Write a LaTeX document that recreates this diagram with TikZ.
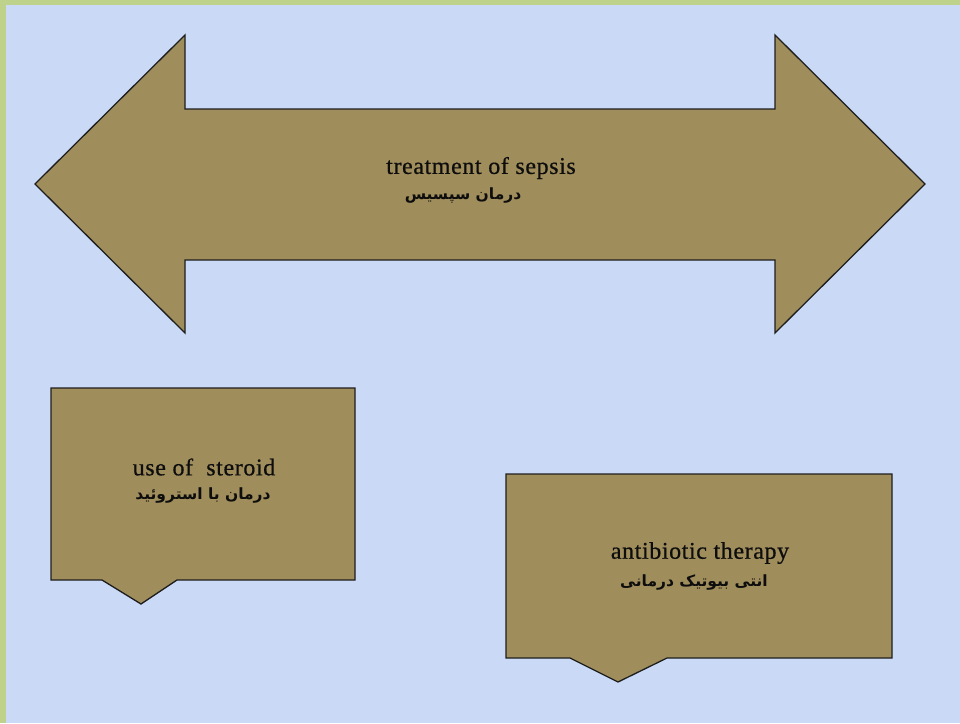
\documentclass[tikz,border=0pt]{standalone}
\usepackage{fontspec}
\setmainfont{Liberation Serif}
\newfontfamily\arabicfont[Script=Arabic]{DejaVu Sans}
\newfontfamily\labelfont[LetterSpace=2.5,FakeBold=0.6]{Liberation Serif}
\TeXXeTstate=1
\definecolor{frameGreen}{RGB}{190,210,140}
\definecolor{paperBlue}{RGB}{202,218,246}
\definecolor{khaki}{RGB}{160,141,92}
\definecolor{edge}{RGB}{30,30,30}
\tikzset{
  shapefill/.style={fill=khaki, draw=edge, line width=1.3pt, line join=miter},
  entxt/.style={font=\labelfont\fontsize{24}{27}\selectfont, text=black!95, inner sep=0pt},
  artxt/.style={font=\arabicfont\bfseries\fontsize{15.5}{18}\selectfont, text=black!95, inner sep=0pt}
}
\begin{document}
\begin{tikzpicture}[x=1pt, y=-1pt]
  % page background with green edge
  \fill[frameGreen] (0,0) rectangle (960,723);
  \fill[paperBlue] (6,5) rectangle (960,723);
  \useasboundingbox (0,0) rectangle (960,723);

  % double-headed arrow
  \filldraw[shapefill]
    (35,184) -- (185,35) -- (185,109) -- (775,109) -- (775,35)
    -- (925,184) -- (775,333) -- (775,260) -- (185,260) -- (185,333) -- cycle;
  \node[entxt] (sepsis) at (481,168) {treatment of sepsis};
  \node[artxt] (sepsisfa) at (463,195) {\beginR درمان سپسیس\endR};

  % callout: steroid
  \filldraw[shapefill]
    (51,388) -- (355,388) -- (355,580) -- (177,580) -- (141,604)
    -- (102,580) -- (51,580) -- cycle;
  \node[entxt] (steroid) at (204,467) {use of\ \ steroid};
  \node[artxt] (steroidfa) at (203,495) {\beginR درمان با استروئید\endR};

  % callout: antibiotics
  \filldraw[shapefill]
    (506,474) -- (892,474) -- (892,658) -- (667,658) -- (618,682)
    -- (570,658) -- (506,658) -- cycle;
  \node[entxt] (antibio) at (700,553) {antibiotic therapy};
  \node[artxt] (antibiofa) at (694,582) {\beginR انتی بیوتیک درمانی\endR};
\end{tikzpicture}
\end{document}
